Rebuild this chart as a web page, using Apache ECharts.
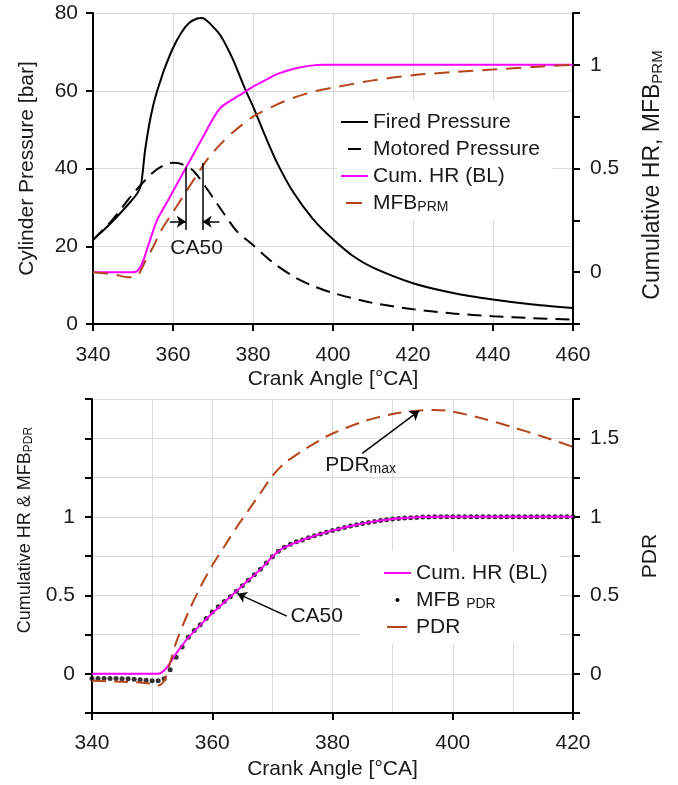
<!DOCTYPE html>
<html><head><meta charset="utf-8">
<script src="https://cdn.jsdelivr.net/npm/echarts@6/dist/echarts.min.js"></script>
<style>html,body{margin:0;padding:0;background:#fff}#c{width:678px;height:785px}</style>
</head><body><div id="c"></div>
<script>
const FONT = '"Liberation Sans", Arial, Helvetica, sans-serif';
const FS = 21;
const TXT = '#1a1a1a';
const MAGENTA = '#ff00ff';
const BROWN = '#b5451b';

// ---------- Top chart data ----------
const firedAngle = [340,343,346,349,351,352,353,354,355,356,357,358,360,362,364,366,367,368,370,372,375,378,380,383,386,390,395,400,405,410,420,430,440,450,460];
const firedP     = [21.7,24.5,27.6,31,33.5,35.8,44.5,51,56,59.8,63,66,71,74.8,77.4,78.6,78.7,78.4,76.5,74,68,60.5,56,48.5,41.5,34,27,21.8,17.5,14.5,10.5,8,6.3,5,4.1];
const motoredAngle = [340,345,350,355,358,360,362,365,368,370,373,376,380,385,390,395,400,410,420,430,440,450,460];
const motoredP     = [21.6,27,33.5,39,41,41.5,41.2,39.5,35.5,32.5,28,23.8,20.3,15.8,12.3,9.8,8.0,5.4,3.8,2.7,2.0,1.5,1.1];
const hrTopAngle = [340,350,351,352,353,354,356,358,360,362,364,366,368,370,372,375,378,380,383,386,390,394,398,400,460];
const hrTop      = [0,0,0.005,0.03,0.08,0.14,0.25,0.32,0.39,0.46,0.53,0.60,0.67,0.74,0.795,0.835,0.87,0.895,0.925,0.955,0.98,0.995,1,1,1];
const mfbPrmAngle = [340,345,349,351,352,353,355,357,360,363,366,369,372,375,380,385,390,395,400,410,420,430,440,450,460];
const mfbPrm      = [0,-0.01,-0.025,-0.02,0.01,0.05,0.12,0.2,0.29,0.38,0.47,0.555,0.62,0.675,0.75,0.80,0.84,0.87,0.89,0.925,0.95,0.965,0.977,0.99,1.0];
const topRightLabels = [0, 0.5, 1];
const ca50Hr = 363.2, ca50Prm = 367.4;

// ---------- Bottom chart data ----------
const hrBotAngle = [340,351,352,353,354,355,356,358,360,362,364,366,368,370,371,372,375,378,380,385,390,395,398,420];
const hrBot      = [0,0,0.02,0.07,0.13,0.18,0.23,0.31,0.385,0.455,0.525,0.595,0.665,0.745,0.78,0.805,0.852,0.89,0.912,0.957,0.985,0.998,1,1];
const mfbPdrAngle = [340,341,342,343,344,345,346,347,348,349,350,351,352,353,354,355,356,357,358,359,360,361,362,363,364,365,366,367,368,369,370,371,372,373,374,375,376,377,378,379,380,381,382,383,384,385,386,387,388,389,390,391,392,393,394,395,396,397,398,399,400,401,402,403,404,405,406,407,408,409,410,411,412,413,414,415,416,417,418,419,420];
const mfbPdr      = [-0.03,-0.03,-0.03,-0.03,-0.03,-0.032,-0.032,-0.035,-0.038,-0.042,-0.045,-0.045,-0.032,0.025,0.105,0.17,0.232,0.275,0.312,0.352,0.393,0.427,0.46,0.49,0.525,0.56,0.595,0.63,0.665,0.705,0.745,0.78,0.805,0.825,0.84,0.852,0.866,0.879,0.89,0.901,0.912,0.922,0.932,0.941,0.949,0.957,0.964,0.97,0.976,0.981,0.985,0.989,0.992,0.994,0.996,0.998,0.999,1,1,1,1,1,1,1,1,1,1,1,1,1,1,1,1,1,1,1,1,1,1,1,1];
const pdrAngle = [340,344,348,350,351,352,353,354,356,358,360,362,364,366,368,370,372,375,378,380,385,390,394,397,400,405,410,415,420];
const pdr      = [-0.045,-0.05,-0.055,-0.065,-0.075,-0.045,0.07,0.2,0.39,0.55,0.69,0.81,0.93,1.04,1.15,1.26,1.34,1.42,1.49,1.53,1.605,1.655,1.675,1.68,1.67,1.625,1.57,1.51,1.445];
const botLeftLabels = [0, 0.5, 1];
const botRightLabels = [0, 0.5, 1, 1.5];
const ca50Bot = 364.2;
const pdrMaxAngle = 394.4, pdrMaxValue = 1.675;

const zip = (xs, ys) => xs.map((x, i) => [x, ys[i]]);
const only = list => v => list.some(t => Math.abs(t - v) < 1e-9) ? String(v) : '';

const axisLineS = {show: true, onZero: false, lineStyle: {color: '#000', width: 2}};
const tickS = {show: true, inside: false, length: 7, lineStyle: {color: '#000', width: 2}};
const gridLineS = {show: true, lineStyle: {color: '#dadada', width: 1}};
const labelBase = {fontSize: FS, fontFamily: FONT, color: TXT};
const mkRich = (fa, fs) => ({
  a: {fontSize: fa, fontFamily: FONT, color: TXT, lineHeight: fa + 1},
  s: {fontSize: fs, fontFamily: FONT, color: TXT, lineHeight: fs, verticalAlign: 'bottom'}
});
const subRich = mkRich(FS, 14);
const nameStyle = {fontSize: FS, fontFamily: FONT, color: TXT, rich: subRich};

const dotIcon = 'image://data:image/svg+xml;utf8,' + encodeURIComponent('<svg xmlns="http://www.w3.org/2000/svg" width="27" height="14"><circle cx="13.5" cy="7" r="2" fill="#000"/></svg>');

const legendFmt = name => {
  if (name === 'MFB_PRM') return '{a|MFB}{s|PRM}';
  if (name === 'MFB_PDR') return '{a|MFB }{s|PDR}';
  return '{a|' + name + '}';
};
const legendText = {fontSize: FS, fontFamily: FONT, color: TXT, lineHeight: 22, rich: subRich};

const annoLine = {color: '#000', width: 1.5, type: 'solid'};

const option = {
  animation: false,
  backgroundColor: '#fff',
  grid: [
    {left: 93, top: 13, width: 480, height: 311},
    {left: 92, top: 399, width: 481, height: 314}
  ],
  xAxis: [
    {gridIndex: 0, type: 'value', min: 340, max: 460, interval: 20,
     axisLine: axisLineS, axisTick: tickS, splitLine: gridLineS,
     axisLabel: {...labelBase, margin: 21},
     name: 'Crank Angle [°CA]', nameLocation: 'middle', nameGap: 45, nameTextStyle: nameStyle},
    {gridIndex: 1, type: 'value', min: 340, max: 420, interval: 20,
     axisLine: axisLineS, axisTick: tickS, splitLine: gridLineS,
     minorTick: {show: false, splitNumber: 2}, minorSplitLine: {show: true, lineStyle: {color: '#dadada', width: 1}},
     axisLabel: {...labelBase, margin: 20},
     name: 'Crank Angle [°CA]', nameLocation: 'middle', nameGap: 46, nameTextStyle: nameStyle}
  ],
  yAxis: [
    {gridIndex: 0, type: 'value', position: 'left', min: 0, max: 80, interval: 20,
     axisLine: axisLineS, axisTick: tickS, splitLine: gridLineS,
     axisLabel: {...labelBase, margin: 15},
     name: 'Cylinder Pressure [bar]', nameLocation: 'middle', nameRotate: 90, nameGap: 55, nameTextStyle: nameStyle},
    {gridIndex: 0, type: 'value', position: 'right', min: -0.25, max: 1.25, interval: 0.25,
     axisLine: axisLineS, axisTick: tickS, splitLine: {show: false},
     axisLabel: {...labelBase, margin: 17, formatter: only(topRightLabels)},
     name: '{a|Cumulative HR, MFB}{s|PRM}', nameLocation: 'middle', nameRotate: 90, nameGap: 68,
     nameTextStyle: {fontSize: 23, fontFamily: FONT, color: TXT, rich: mkRich(23, 15), padding: [0, 13, 0, 0]}},
    {gridIndex: 1, type: 'value', position: 'left', min: -0.25, max: 1.75, interval: 0.25,
     axisLine: axisLineS, axisTick: tickS, splitLine: gridLineS,
     axisLabel: {...labelBase, margin: 17, formatter: only(botLeftLabels)},
     name: '{a|Cumulative HR & MFB}{s|PDR}', nameLocation: 'middle', nameRotate: 90, nameGap: 55,
     nameTextStyle: {fontSize: 18, fontFamily: FONT, color: TXT, rich: mkRich(18, 12), padding: [0, 0, 0, 52]}},
    {gridIndex: 1, type: 'value', position: 'right', min: -0.25, max: 1.75, interval: 0.25,
     axisLine: axisLineS, axisTick: tickS, splitLine: {show: false},
     axisLabel: {...labelBase, margin: 17, formatter: only(botRightLabels)},
     name: 'PDR', nameLocation: 'middle', nameRotate: 90, nameGap: 67, nameTextStyle: nameStyle}
  ],
  legend: [
    {orient: 'vertical', left: 337, top: 100, backgroundColor: '#fff', padding: [11, 12, 6, 3],
     itemWidth: 27, itemHeight: 14, itemGap: 5, selectedMode: false,
     itemStyle: {opacity: 0},
     textStyle: legendText, formatter: legendFmt,
     data: [
       {name: 'Fired Pressure'},
       {name: 'Motored Pressure', lineStyle: {type: [0, 7, 13, 100]}},
       {name: 'Cum. HR (BL)'},
       {name: 'MFB_PRM', lineStyle: {type: [0, 5, 16, 100]}}
     ]},
    {orient: 'vertical', left: 360, top: 551, backgroundColor: '#fff', padding: [11, 12, 6, 23],
     itemWidth: 27, itemHeight: 14, itemGap: 5, selectedMode: false,
     itemStyle: {opacity: 0},
     textStyle: legendText, formatter: legendFmt,
     data: [
       {name: 'Cum. HR (BL)'},
       {name: 'MFB_PDR', icon: dotIcon, itemStyle: {opacity: 1}},
       {name: 'PDR', lineStyle: {type: [0, 3, 20, 100]}}
     ]}
  ],
  series: [
    {name: 'Fired Pressure', type: 'line', xAxisIndex: 0, yAxisIndex: 0, symbol: 'none', smooth: 0.3,
     data: zip(firedAngle, firedP), lineStyle: {color: '#000', width: 2}, itemStyle: {color: '#000'},
     markLine: {silent: true, symbol: ['none', 'none'], symbolSize: 9, label: {show: false}, lineStyle: annoLine,
       data: [
         [{coord: [ca50Hr, 24.2], symbol: 'none'}, {coord: [ca50Hr, 40.4], symbol: 'none'}],
         [{coord: [ca50Prm, 24.2], symbol: 'none'}, {coord: [ca50Prm, 41.4], symbol: 'none'}],
         [{coord: [359.2, 26.3], symbol: 'none'}, {coord: [ca50Hr, 26.3], symbol: 'arrow'}],
         [{coord: [371.6, 26.3], symbol: 'none'}, {coord: [ca50Prm, 26.3], symbol: 'arrow'}]
       ]}},
    {name: 'Motored Pressure', type: 'line', xAxisIndex: 0, yAxisIndex: 0, symbol: 'none', smooth: 0.3,
     data: zip(motoredAngle, motoredP), lineStyle: {color: '#000', width: 2, type: [14, 8]}, itemStyle: {color: '#000'}},
    {name: 'Cum. HR (BL)', type: 'line', xAxisIndex: 0, yAxisIndex: 1, symbol: 'none', smooth: 0.3,
     data: zip(hrTopAngle, hrTop), lineStyle: {color: MAGENTA, width: 2}, itemStyle: {color: MAGENTA}},
    {name: 'MFB_PRM', type: 'line', xAxisIndex: 0, yAxisIndex: 1, symbol: 'none', smooth: 0.3,
     data: zip(mfbPrmAngle, mfbPrm), lineStyle: {color: BROWN, width: 2, type: [15, 9]}, itemStyle: {color: BROWN}},

    {name: 'Cum. HR (BL)', type: 'line', xAxisIndex: 1, yAxisIndex: 2, symbol: 'none', smooth: 0.3,
     data: zip(hrBotAngle, hrBot), lineStyle: {color: MAGENTA, width: 2}, itemStyle: {color: MAGENTA},
     markLine: {silent: true, symbol: ['none', 'none'], symbolSize: 9, label: {show: false}, lineStyle: annoLine,
       data: [
         [{coord: [372.4, 0.367], symbol: 'none'}, {coord: [ca50Bot, 0.51], symbol: 'arrow'}],
         [{coord: [384.95, 1.404], symbol: 'none'}, {coord: [pdrMaxAngle, pdrMaxValue], symbol: 'arrow'}]
       ]}},
    {name: 'MFB_PDR', type: 'scatter', xAxisIndex: 1, yAxisIndex: 2, symbol: 'circle', symbolSize: 5,
     data: zip(mfbPdrAngle, mfbPdr), itemStyle: {color: '#000'}},
    {name: 'PDR', type: 'line', xAxisIndex: 1, yAxisIndex: 3, symbol: 'none', smooth: 0.3,
     data: zip(pdrAngle, pdr), lineStyle: {color: BROWN, width: 2, type: [14, 8]}, itemStyle: {color: BROWN}}
  ]
};

const chart = echarts.init(document.getElementById('c'));
chart.setOption(option);

const pTop = (x, y) => chart.convertToPixel({xAxisIndex: 0, yAxisIndex: 0}, [x, y]);
const pBot = (x, y) => chart.convertToPixel({xAxisIndex: 1, yAxisIndex: 2}, [x, y]);
const t1 = pTop(365.9, 19.5);
const t2 = pBot(373.0, 0.367);
const t3 = pBot(378.8, 1.327);
chart.setOption({
  graphic: [
    {type: 'text', x: t1[0], y: t1[1], silent: true,
     style: {text: 'CA50', font: FS + 'px ' + FONT, fill: TXT, align: 'center', verticalAlign: 'middle'}},
    {type: 'text', x: t2[0], y: t2[1], silent: true,
     style: {text: 'CA50', font: FS + 'px ' + FONT, fill: TXT, align: 'left', verticalAlign: 'middle'}},
    {type: 'text', x: t3[0], y: t3[1], silent: true,
     style: {text: '{a|PDR}{s|max}', rich: subRich, fill: TXT, align: 'left', verticalAlign: 'middle'}}
  ]
});
</script>
</body></html>
